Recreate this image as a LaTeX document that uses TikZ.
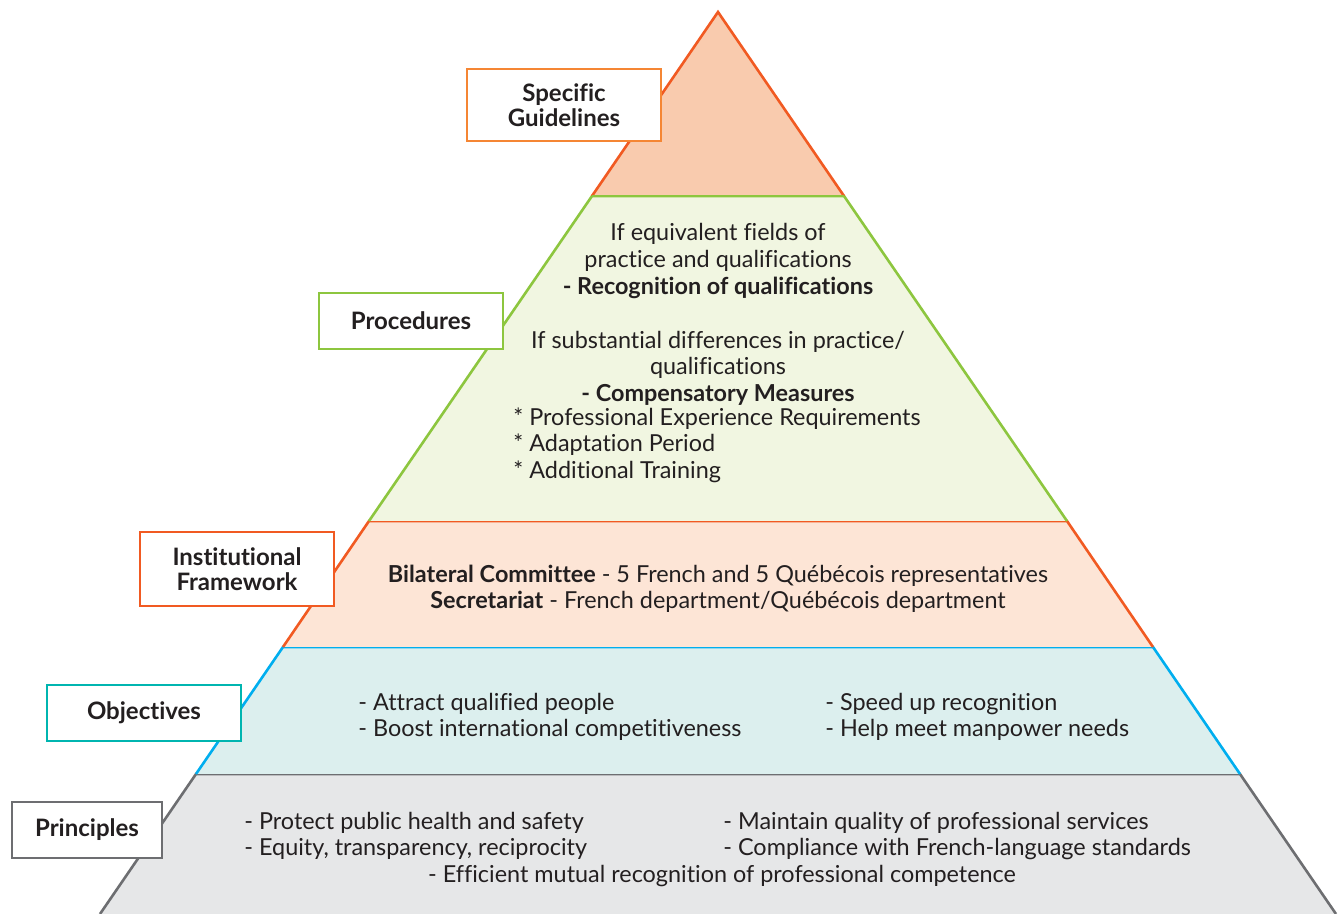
\documentclass[tikz,border=0pt]{standalone}
\usepackage{fontspec}
\setmainfont{Lato}[Ligatures=NoCommon]
\usepackage{tikz}
\usetikzlibrary{positioning, calc}
\definecolor{tipline}{HTML}{F15A22}
\definecolor{tipfill}{HTML}{F9CBAE}
\definecolor{tipbox}{HTML}{F58634}
\definecolor{procline}{HTML}{8DC63F}
\definecolor{procfill}{HTML}{F1F6E1}
\definecolor{instline}{HTML}{F15A22}
\definecolor{instfill}{HTML}{FDE5D6}
\definecolor{objline}{HTML}{00AEEF}
\definecolor{objfill}{HTML}{DCEFEE}
\definecolor{objbox}{HTML}{00B5B0}
\definecolor{prinline}{HTML}{6D6E71}
\definecolor{prinfill}{HTML}{E6E7E8}
\definecolor{ink}{HTML}{231F20}
\tikzset{
    layer/.style={line width=1.3pt, line join=miter},
    tag/.style={draw, fill=white, line width=1.3pt, font=\bfseries\fontsize{12}{12.5}\selectfont,
      text=ink, align=center, inner sep=0pt},
    body/.style={font=\fontsize{11.7}{13.3}\selectfont, text=ink, inner sep=0pt},
}

\begin{document}
\begin{tikzpicture}[x=0.5pt, y=-0.5pt]
    \useasboundingbox (0,0) rectangle (1341,914);

    % pyramid layers, bottom up
    \filldraw[layer, draw=prinline, fill=prinfill] (100,914) -- (196,774) -- (1240,774) -- (1336,914);
    \filldraw[layer, draw=objline, fill=objfill] (196,774) -- (283,647) -- (1153,647) -- (1240,774);
    \filldraw[layer, draw=instline, fill=instfill] (283,647) -- (369,521) -- (1067,521) -- (1153,647);
    \filldraw[layer, draw=procline, fill=procfill] (369,521) -- (592,196) -- (844,196) -- (1067,521);
    \filldraw[layer, draw=tipline, fill=tipfill] (592,196) -- (718,12) -- (844,196);
    \draw[layer, draw=procline] (592,196) -- (844,196);

    % side labels
    \node[tag, draw=tipbox, minimum width=97pt, minimum height=36pt] (guide) at (564,105) {Specific\\Guidelines};
    \node[tag, draw=procline, minimum width=92pt, minimum height=28pt] (proc) at (411,321) {Procedures};
    \node[tag, draw=instline, minimum width=97pt, minimum height=37pt] (inst) at (237,569) {Institutional\\Framework};
    \node[tag, draw=objbox, minimum width=97pt, minimum height=28pt] (obj) at (144,713) {Objectives};
    \node[tag, draw=prinline, minimum width=75pt, minimum height=28pt] (prin) at (87,830) {Principles};

    % procedures
    \node[body, align=center] (equiv) at (718,261) {If equivalent fields of\\practice and qualifications\\\textbf{- Recognition of qualifications}};
    \node[body, align=center] (subst) at (718,368) {If substantial differences in practice/\\qualifications\\\textbf{- Compensatory Measures}};
    \node[body, align=left, anchor=north west] (comp) at (513,407) {* Professional Experience Requirements\\* Adaptation Period\\* Additional Training};

    % institutional framework
    \node[body, align=center] (committee) at (718,589) {\textbf{Bilateral Committee} - 5 French and 5 Québécois representatives\\\textbf{Secretariat} - French department/Québécois department};

    % objectives
    \node[body, align=left, anchor=west] (objleft) at (358,717) {- Attract qualified people\\- Boost international competitiveness};
    \node[body, align=left, anchor=west] (objright) at (825,717) {- Speed up recognition\\- Help meet manpower needs};

    % principles
    \node[body, align=left, anchor=west] (prinleft) at (244,836) {- Protect public health and safety\\- Equity, transparency, reciprocity};
    \node[body, align=left, anchor=west] (prinright) at (723,836) {- Maintain quality of professional services\\- Compliance with French-language standards};
    \node[body] (prinmid) at (722,876) {- Efficient mutual recognition of professional competence};
\end{tikzpicture}
\end{document}
